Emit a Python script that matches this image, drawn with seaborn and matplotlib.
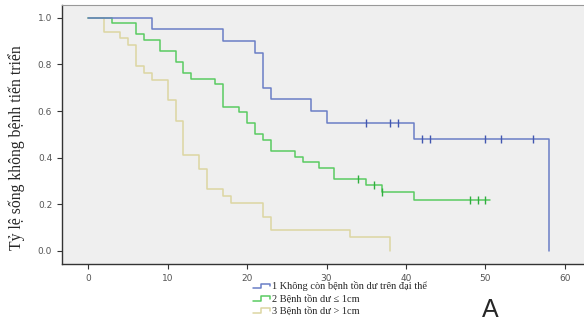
import numpy as np
import pandas as pd
import seaborn as sns
import matplotlib
matplotlib.use("Agg")
import matplotlib.pyplot as plt
from matplotlib.legend_handler import HandlerBase
from matplotlib.lines import Line2D

# Kaplan-Meier steps (months, survival)
blue_t = [0, 8, 17, 21, 22, 23, 28, 30, 41, 58]
blue_s = [1.0, 0.95, 0.90, 0.85, 0.70, 0.65, 0.60, 0.55, 0.481, 0.0]
blue_cens = [35, 38, 39, 42, 43, 50, 52, 56]

green_t = [0, 3, 6, 7, 9, 11, 12, 13, 16, 17, 19, 20, 21, 22, 23, 26, 27, 29, 31, 35, 37, 41, 50.6]
green_s = [1.0, 0.976, 0.929, 0.905, 0.857, 0.810, 0.762, 0.738, 0.714, 0.619, 0.595, 0.548,
           0.500, 0.476, 0.429, 0.405, 0.381, 0.357, 0.310, 0.284, 0.253, 0.218, 0.218]
green_cens = [34, 36, 37, 48, 49, 50]

yellow_t = [0, 2, 4, 5, 6, 7, 8, 10, 11, 12, 14, 15, 17, 18, 22, 23, 33, 38]
yellow_s = [1.0, 0.941, 0.912, 0.882, 0.794, 0.765, 0.735, 0.647, 0.559, 0.412, 0.353,
            0.265, 0.235, 0.206, 0.147, 0.088, 0.059, 0.0]

labels = ["1 Không còn bệnh tồn dư trên đại thể", "2 Bệnh tồn dư ≤ 1cm", "3 Bệnh tồn dư > 1cm"]
colors = ["#6a7ec6", "#5acb62", "#dcd6a2"]
cens_colors = ["#4257b0", "#2fae3e", "#c9c080"]

x_ticks = [0, 10, 20, 30, 40, 50, 60]
y_ticks = [0.0, 0.2, 0.4, 0.6, 0.8, 1.0]

sns.set_style("ticks", {"axes.facecolor": "#efefef"})
plt.rcParams["font.family"] = ["DejaVu Sans"]


class StepHandler(HandlerBase):
    # little step-shaped legend key, like SPSS draws
    def create_artists(self, legend, orig, xd, yd, w, h, fontsize, trans):
        xs = np.array([0, 0.45, 0.45, 1.0, 1.0]) * w - xd
        ys = np.array([0.15, 0.15, 0.8, 0.8, 0.45]) * h - yd
        ln = Line2D(xs, ys, color=orig.get_color(), lw=1.1, transform=trans)
        return [ln]


fig = plt.figure(figsize=(5.84, 3.22), dpi=100)
ax = fig.add_axes([0.106, 0.18, 0.894, 0.804])

curves = [(yellow_t, yellow_s, []), (green_t, green_s, green_cens), (blue_t, blue_s, blue_cens)]
order = [2, 1, 0]
for (t, s, cens), k in zip(curves, order):
    df = pd.DataFrame({"t": t, "s": s})
    sns.lineplot(data=df, x="t", y="s", drawstyle="steps-post", estimator=None,
                 color=colors[k], lw=1.1, ax=ax)
    if cens:
        idx = np.searchsorted(t, cens, side="right") - 1
        cdf = pd.DataFrame({"t": cens, "s": np.array(s)[idx]})
        sns.scatterplot(data=cdf, x="t", y="s", marker="|", s=28, linewidth=1.0,
                        color=cens_colors[k], ax=ax, zorder=5)

ax.set_xlim(-3.3, 62.4)
ax.set_ylim(-0.056, 1.054)
ax.set_xticks(x_ticks)
ax.set_yticks(y_ticks)
ax.set_yticklabels([f"{v:.1f}" for v in y_ticks])
ax.tick_params(labelsize=6.5, length=3.5, width=0.8, colors="#333333", labelcolor="#555555")
ax.set_xlabel("")
ax.set_ylabel("Tỷ lệ sống không bệnh tiến triển", fontsize=11.3,
              family=["Liberation Serif", "DejaVu Serif"])
ax.yaxis.set_label_coords(-0.071, 0.45)

for side in ["left", "bottom"]:
    ax.spines[side].set_color("#333333")
    ax.spines[side].set_linewidth(1.0)
ax.spines["top"].set_visible(True)
ax.spines["top"].set_color("#999999")
ax.spines["right"].set_visible(False)

handles = [Line2D([], [], color=c) for c in colors]
fig.legend(handles, labels, loc="upper left", bbox_to_anchor=(0.425, 0.142),
           frameon=False, borderpad=0, handlelength=1.6, handletextpad=0.2,
           labelspacing=0.3, prop={"family": ["Liberation Serif", "DejaVu Serif"], "size": 7.5},
           handler_map={Line2D: StepHandler()})

fig.text(0.839, 0.015, "A", fontsize=18, family=["Liberation Sans", "DejaVu Sans"], ha="center")

fig.savefig("out.png", dpi=100)
